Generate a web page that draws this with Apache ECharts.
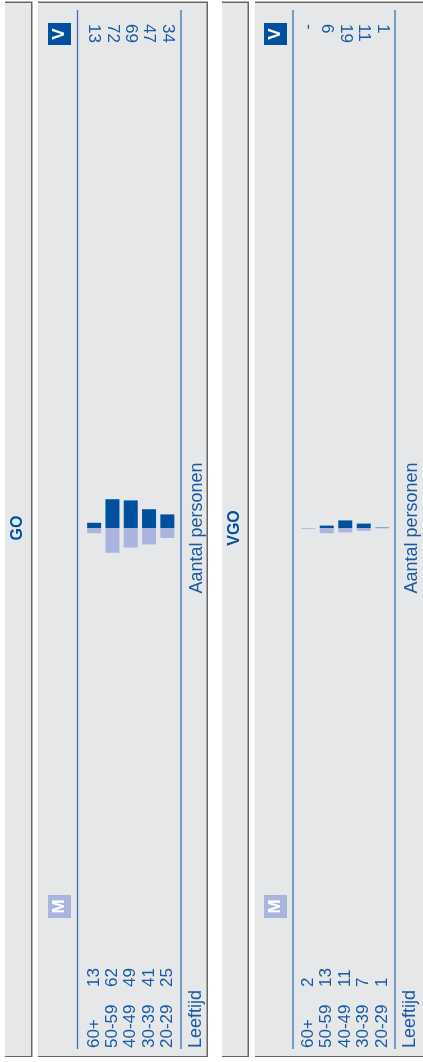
<!DOCTYPE html>
<html><head><meta charset="utf-8">
<script src="https://cdn.jsdelivr.net/npm/echarts@6/dist/echarts.min.js"></script>
<style>html,body{margin:0;padding:0;background:#fff}#c{width:423px;height:1062px}</style>
</head><body><div id="c"></div>
<script>
// ---- data ----
const ages = ['60+', '50-59', '40-49', '30-39', '20-29'];
const goM = [13, 62, 49, 41, 25];
const goV = [13, 72, 69, 47, 34];
const vgoM = [2, 13, 11, 7, 1];
const vgoV = [0, 6, 19, 11, 1];
const panelTitles = ['GO', 'VGO'];
const headerM = 'M';
const headerV = 'V';
const catAxisName = 'Leeftijd';
const valAxisName = 'Aantal personen';

// ---- style / layout ----
const FONT = 'Liberation Sans, Arial, Helvetica, sans-serif';
const TXT = '#1b59a5';
const DARK = '#0050a0';
const LIGHT = '#a9b5dd';
const GRAY = '#e6e7e8';
const SHADOW = '#666666';
const RULE = '#3a70b7';
const FS = 17;

const layouts = [
  { gridLeft: 85, gridWidth: 91.5, tX: 5, tW: 26, mX: 38, mW: 168.5, titleX: 18, ruleL: 77.5, ruleR: 181, boxX: 48, footX: 196 },
  { gridLeft: 299, gridWidth: 92.5, tX: 222, tW: 25.5, mX: 255, mW: 168, titleX: 235, ruleL: 293, ruleR: 395, boxX: 264, footX: 410 }
];
const panels = [
  { title: panelTitles[0], M: goM, V: goV },
  { title: panelTitles[1], M: vgoM, V: vgoV }
];

const grids = [], xAxes = [], yAxes = [], series = [], graphics = [];
const BOX_TOP = 3, BOX_BOT = 1056;

function bgBox(x, w) {
  graphics.push({ type: 'rect', z: -20, shape: { x: x, y: BOX_TOP - 1.5, width: w + 1.5, height: BOX_BOT - BOX_TOP + 2.5 }, style: { fill: SHADOW } });
  graphics.push({ type: 'rect', z: -19, shape: { x: x, y: BOX_TOP, width: w, height: BOX_BOT - BOX_TOP }, style: { fill: GRAY } });
}

panels.forEach((p, i) => {
  const L = layouts[i];
  grids.push({ left: L.gridLeft, width: L.gridWidth, top: 28, height: 1000, containLabel: false });
  const base = { gridIndex: i, type: 'category', data: ages,
    axisLine: { show: false, onZero: false }, axisTick: { show: false }, splitLine: { show: false } };
  const lab = { inside: true, rotate: 90, margin: 0, interval: 0, color: TXT, fontSize: FS, fontFamily: FONT };
  // category labels (bottom)
  xAxes.push(Object.assign({}, base, { position: 'bottom', offset: 20, axisLabel: Object.assign({}, lab) }));
  // M values column
  xAxes.push(Object.assign({}, base, { position: 'bottom', offset: -41,
    axisLabel: Object.assign({}, lab, { formatter: (v, idx) => String(p.M[idx]) }) }));
  // V values column (top)
  xAxes.push(Object.assign({}, base, { position: 'top', offset: 4,
    axisLabel: Object.assign({}, lab, { formatter: (v, idx) => p.V[idx] === 0 ? '-' : String(p.V[idx]) }) }));
  yAxes.push({ gridIndex: i, type: 'value', min: -1250, max: 1250, position: 'right',
    axisLine: { show: false }, axisTick: { show: false }, axisLabel: { show: false }, splitLine: { show: false },
    name: valAxisName, nameLocation: 'middle', nameRotate: 90, nameGap: 12,
    nameTextStyle: { color: TXT, fontSize: 18, fontFamily: FONT } });
  series.push({ type: 'bar', name: headerV, xAxisIndex: i * 3, yAxisIndex: i, data: p.V,
    barWidth: 14, barGap: '-100%', itemStyle: { color: DARK }, silent: true });
  series.push({ type: 'bar', name: headerM, xAxisIndex: i * 3, yAxisIndex: i, data: p.M.map(v => -v),
    barWidth: 14, barGap: '-100%', itemStyle: { color: LIGHT }, silent: true });

  // decorations
  bgBox(L.tX, L.tW);
  bgBox(L.mX, L.mW);
  graphics.push({ type: 'text', z: 5, x: L.titleX, y: 528, rotation: Math.PI / 2,
    style: { text: p.title, fill: DARK, font: 'bold 16px ' + FONT, align: 'center', verticalAlign: 'middle' } });
  [L.ruleL, L.ruleR].forEach(rx => graphics.push({ type: 'line', z: 1,
    shape: { x1: rx, y1: 10, x2: rx, y2: 1049 }, style: { stroke: RULE, lineWidth: 1.3 } }));
  graphics.push({ type: 'rect', z: 2, shape: { x: L.boxX, y: 23, width: 23, height: 22 }, style: { fill: DARK } });
  graphics.push({ type: 'text', z: 5, x: L.boxX + 11.5, y: 34, rotation: Math.PI / 2,
    style: { text: headerV, fill: '#fff', font: 'bold 17px ' + FONT, align: 'center', verticalAlign: 'middle' } });
  graphics.push({ type: 'rect', z: 2, shape: { x: L.boxX, y: 895, width: 23, height: 23 }, style: { fill: LIGHT } });
  graphics.push({ type: 'text', z: 5, x: L.boxX + 11.5, y: 906.5, rotation: Math.PI / 2,
    style: { text: headerM, fill: '#fff', font: 'bold 17px ' + FONT, align: 'center', verticalAlign: 'middle' } });
  graphics.push({ type: 'text', z: 5, x: L.footX, y: 1048, rotation: Math.PI / 2,
    style: { text: catAxisName, fill: TXT, font: '18px ' + FONT, align: 'left', verticalAlign: 'middle' } });
});

const chart = echarts.init(document.getElementById('c'), null, { renderer: 'canvas' });
chart.setOption({
  animation: false,
  backgroundColor: '#ffffff',
  grid: grids, xAxis: xAxes, yAxis: yAxes, series: series,
  graphic: { elements: graphics }
});
</script></body></html>
